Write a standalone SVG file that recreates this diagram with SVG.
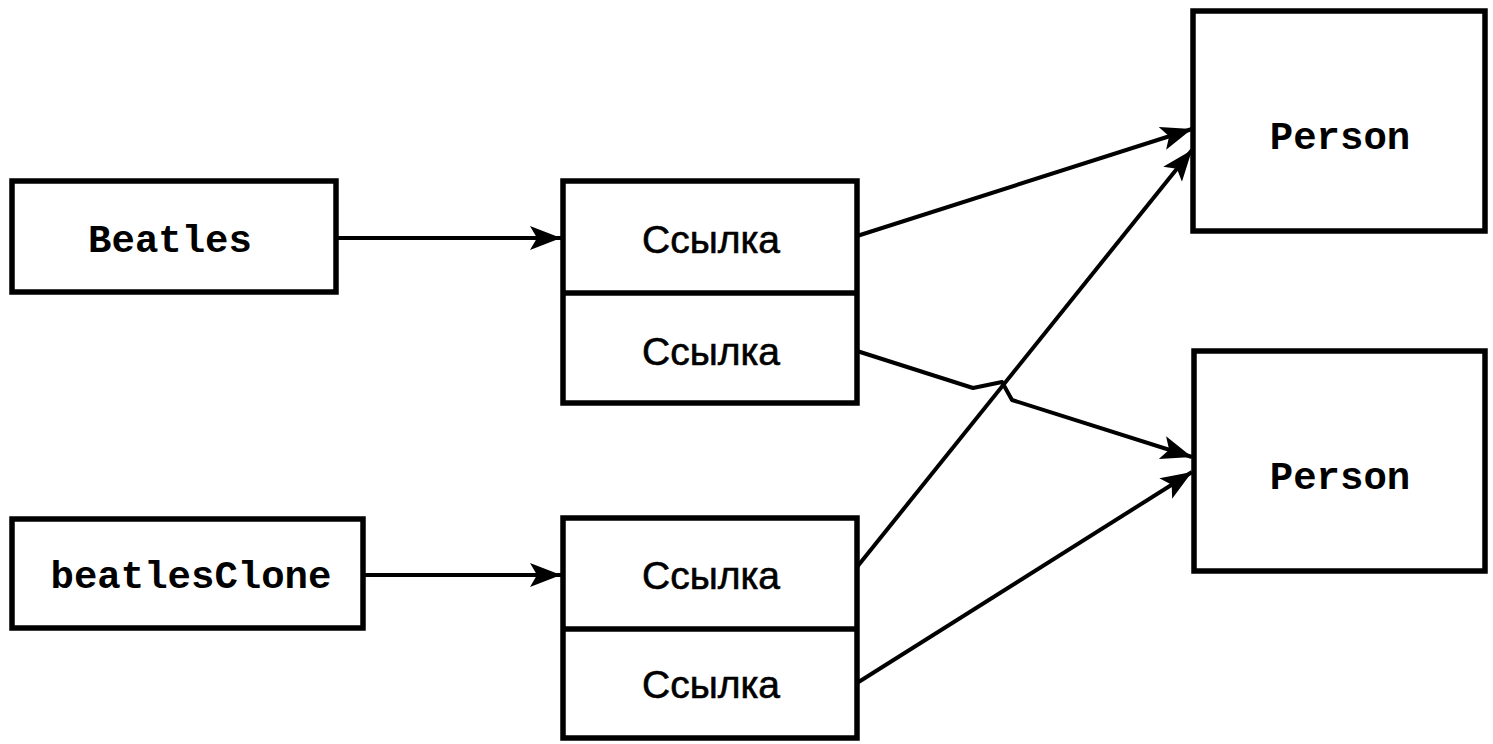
<svg xmlns="http://www.w3.org/2000/svg" width="1493" height="744" viewBox="0 0 1493 744">
<style>
.box{fill:#fff;stroke:#000;stroke-width:5.5}
.div{stroke:#000;stroke-width:5.5}
.mono{font-family:"Liberation Mono","Courier New",monospace;font-weight:bold;font-size:39px;fill:#000;text-anchor:middle}
.sans{font-family:"Liberation Sans",Arial,sans-serif;font-size:39px;fill:#000;text-anchor:middle;stroke:#000;stroke-width:0.6}
.con{fill:none;stroke:#000;stroke-width:4;stroke-linejoin:round}
</style>
<defs>
<marker id="arr" markerUnits="userSpaceOnUse" markerWidth="34" markerHeight="26" refX="31" refY="12" orient="auto">
<path d="M0,0 L31,12 L0,24 L7,12 Z" fill="#000"/>
</marker>
</defs>
<rect width="1493" height="744" fill="#fff"/>
<g id="beatles">
<rect class="box" x="12" y="181" width="324" height="111"/>
<text class="mono" x="170" y="252">Beatles</text>
</g>
<g id="beatlesClone">
<rect class="box" x="12" y="519" width="351" height="109"/>
<text class="mono" x="191" y="588">beatlesClone</text>
</g>
<g id="refs1">
<rect class="box" x="563" y="181" width="294" height="222"/>
<line class="div" x1="563" y1="293" x2="857" y2="293"/>
<text class="sans" x="711" y="253">Ссылка</text>
<text class="sans" x="711" y="365">Ссылка</text>
</g>
<g id="refs2">
<rect class="box" x="563" y="518" width="294" height="220"/>
<line class="div" x1="563" y1="629" x2="857" y2="629"/>
<text class="sans" x="711" y="589">Ссылка</text>
<text class="sans" x="711" y="698">Ссылка</text>
</g>
<g id="person1">
<rect class="box" x="1193" y="11" width="292" height="220"/>
<text class="mono" x="1340" y="149">Person</text>
</g>
<g id="person2">
<rect class="box" x="1194" y="351" width="291" height="220"/>
<text class="mono" x="1340" y="489">Person</text>
</g>
<g id="connectors">
<line class="con" x1="336" y1="238" x2="561" y2="238" marker-end="url(#arr)"/>
<line class="con" x1="363" y1="575" x2="561" y2="575" marker-end="url(#arr)"/>
<line class="con" x1="857" y1="236" x2="1192" y2="129" marker-end="url(#arr)"/>
<polyline class="con" points="857,351 973,388 1002,382 1012,400 1192,457" marker-end="url(#arr)"/>
<line class="con" x1="857" y1="567" x2="1192" y2="150" marker-end="url(#arr)"/>
<line class="con" x1="857" y1="683" x2="1192" y2="472" marker-end="url(#arr)"/>
</g>
</svg>
